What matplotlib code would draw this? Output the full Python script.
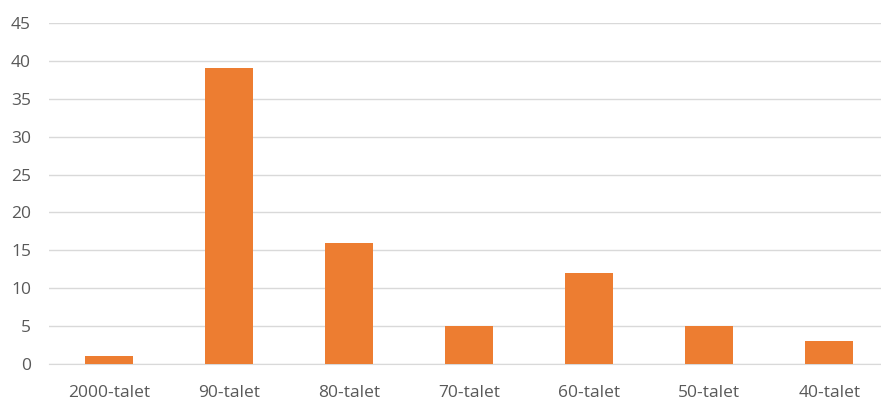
import matplotlib
matplotlib.use('Agg')
import matplotlib.pyplot as plt

# data
categories = ['2000-talet', '90-talet', '80-talet', '70-talet', '60-talet', '50-talet', '40-talet']
values = [1, 39, 16, 5, 12, 5, 3]
yticks = list(range(0, 50, 5))

plt.rcParams['font.family'] = ['Open Sans', 'DejaVu Sans']

fig = plt.figure(figsize=(8.81, 4.03), dpi=100)
ax = fig.add_axes([49 / 881, 39 / 403, 1 - 49 / 881, 341 / 403])

x = range(len(categories))
ax.bar(x, values, width=0.4, color='#ED7D31', zorder=3)

ax.set_ylim(0, 45)
ax.set_yticks(yticks)
ax.set_xlim(-0.5, 6.43)
ax.set_xticks(list(x))
ax.set_xticklabels(categories)

ax.grid(axis='y', color='#D9D9D9', linewidth=1, zorder=0)
for s in ['top', 'right', 'left']:
    ax.spines[s].set_visible(False)
ax.spines['bottom'].set_color('#D9D9D9')
ax.tick_params(axis='both', length=0, colors='#595959', labelsize=12.5)
ax.tick_params(axis='y', pad=13)
ax.tick_params(axis='x', pad=15)

fig.savefig('out.png', dpi=100)
